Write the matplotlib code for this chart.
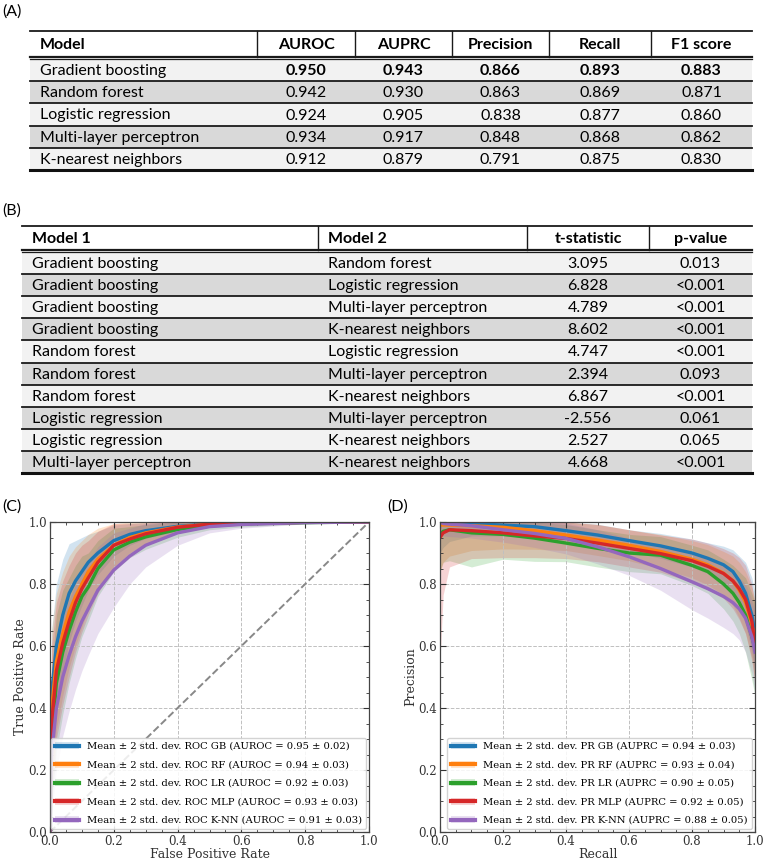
import matplotlib
matplotlib.use("Agg")
import matplotlib.pyplot as plt
from matplotlib.patches import Rectangle, Patch
from matplotlib.lines import Line2D
from matplotlib.ticker import MultipleLocator
import numpy as np

plt.rcParams["font.family"] = "DejaVu Serif"

# ---- table (A): model performance ----
models = ["Gradient boosting", "Random forest", "Logistic regression",
          "Multi-layer perceptron", "K-nearest neighbors"]
metric_names = ["AUROC", "AUPRC", "Precision", "Recall", "F1 score"]
auroc = ["0.950", "0.942", "0.924", "0.934", "0.912"]
auprc = ["0.943", "0.930", "0.905", "0.917", "0.879"]
precision = ["0.866", "0.863", "0.838", "0.848", "0.791"]
recall = ["0.893", "0.869", "0.877", "0.868", "0.875"]
f1 = ["0.883", "0.871", "0.860", "0.862", "0.830"]

# ---- table (B): pairwise t-tests ----
model_1 = ["Gradient boosting"] * 4 + ["Random forest"] * 3 + \
          ["Logistic regression"] * 2 + ["Multi-layer perceptron"]
model_2 = ["Random forest", "Logistic regression", "Multi-layer perceptron",
           "K-nearest neighbors", "Logistic regression", "Multi-layer perceptron",
           "K-nearest neighbors", "Multi-layer perceptron", "K-nearest neighbors",
           "K-nearest neighbors"]
t_stat = ["3.095", "6.828", "4.789", "8.602", "4.747", "2.394", "6.867",
          "-2.556", "2.527", "4.668"]
p_val = ["0.013", "<0.001", "<0.001", "<0.001", "<0.001", "0.093", "<0.001",
         "0.061", "0.065", "<0.001"]

# ---- ROC curves (mean and 2-std half width) ----
short = ["GB", "RF", "LR", "MLP", "K-NN"]
roc_auc_txt = ["0.95 ± 0.02", "0.94 ± 0.03", "0.92 ± 0.03", "0.93 ± 0.03", "0.91 ± 0.03"]
fpr = [0, 0.005, 0.02, 0.04, 0.06, 0.08, 0.1, 0.12, 0.15, 0.2, 0.25, 0.3, 0.4, 0.5, 0.6, 0.8, 1.0]
tpr_gb = [0, 0.45, 0.6, 0.7, 0.77, 0.81, 0.84, 0.87, 0.9, 0.94, 0.96, 0.972, 0.986, 0.994, 0.997, 0.999, 1.0]
tpr_rf = [0, 0.4, 0.55, 0.64, 0.71, 0.76, 0.80, 0.84, 0.88, 0.925, 0.95, 0.965, 0.984, 0.993, 0.996, 0.999, 1.0]
tpr_lr = [0, 0.3, 0.48, 0.58, 0.65, 0.71, 0.76, 0.79, 0.85, 0.91, 0.935, 0.952, 0.976, 0.99, 0.994, 0.998, 1.0]
tpr_mlp = [0, 0.35, 0.52, 0.61, 0.68, 0.74, 0.785, 0.82, 0.87, 0.925, 0.945, 0.962, 0.983, 0.993, 0.996, 0.999, 1.0]
tpr_knn = [0, 0.25, 0.4, 0.5, 0.57, 0.63, 0.68, 0.72, 0.78, 0.845, 0.89, 0.925, 0.965, 0.985, 0.992, 0.998, 1.0]
tpr_hw_gb = [0, 0.2, 0.2, 0.18, 0.16, 0.13, 0.11, 0.09, 0.07, 0.05, 0.035, 0.025, 0.015, 0.008, 0.005, 0.002, 0]
tpr_hw_rf = [0, 0.25, 0.22, 0.2, 0.18, 0.16, 0.14, 0.12, 0.1, 0.07, 0.05, 0.035, 0.018, 0.01, 0.006, 0.002, 0]
tpr_hw_lr = [0, 0.22, 0.22, 0.2, 0.17, 0.15, 0.13, 0.11, 0.09, 0.07, 0.05, 0.04, 0.025, 0.015, 0.01, 0.004, 0]
tpr_hw_mlp = [0, 0.25, 0.22, 0.2, 0.18, 0.16, 0.14, 0.12, 0.1, 0.07, 0.05, 0.035, 0.018, 0.01, 0.006, 0.002, 0]
tpr_hw_knn = [0, 0.2, 0.2, 0.19, 0.18, 0.17, 0.16, 0.15, 0.14, 0.12, 0.09, 0.07, 0.04, 0.02, 0.012, 0.004, 0]

# ---- PR curves ----
pr_auc_txt = ["0.94 ± 0.03", "0.93 ± 0.04", "0.90 ± 0.05", "0.92 ± 0.05", "0.88 ± 0.05"]
rec = [0.0, 0.01, 0.03, 0.1, 0.2, 0.3, 0.4, 0.5, 0.6, 0.7, 0.8, 0.85, 0.9, 0.93, 0.95, 0.97, 0.99, 1.0]
prec_gb = [1.0, 0.998, 0.997, 0.995, 0.99, 0.985, 0.972, 0.958, 0.94, 0.923, 0.9, 0.883, 0.862, 0.84, 0.81, 0.77, 0.70, 0.64]
prec_rf = [0.99, 0.99, 0.99, 0.988, 0.983, 0.972, 0.958, 0.942, 0.925, 0.905, 0.88, 0.862, 0.835, 0.81, 0.78, 0.74, 0.67, 0.62]
prec_lr = [0.96, 0.97, 0.975, 0.965, 0.96, 0.948, 0.932, 0.915, 0.9, 0.893, 0.86, 0.84, 0.80, 0.77, 0.74, 0.70, 0.63, 0.59]
prec_mlp = [0.95, 0.965, 0.975, 0.972, 0.965, 0.955, 0.947, 0.932, 0.915, 0.898, 0.875, 0.857, 0.834, 0.81, 0.785, 0.75, 0.68, 0.60]
prec_knn = [1.0, 0.995, 0.993, 0.988, 0.975, 0.963, 0.947, 0.92, 0.888, 0.85, 0.807, 0.785, 0.76, 0.74, 0.72, 0.69, 0.63, 0.58]
prec_hw_gb = [0.1, 0.08, 0.06, 0.04, 0.035, 0.035, 0.035, 0.035, 0.035, 0.04, 0.045, 0.05, 0.06, 0.07, 0.08, 0.1, 0.12, 0.13]
prec_hw_rf = [0.15, 0.12, 0.1, 0.08, 0.07, 0.06, 0.05, 0.05, 0.05, 0.055, 0.06, 0.065, 0.07, 0.08, 0.09, 0.1, 0.12, 0.13]
prec_hw_lr = [0.12, 0.1, 0.1, 0.11, 0.08, 0.075, 0.06, 0.06, 0.06, 0.06, 0.065, 0.07, 0.08, 0.09, 0.1, 0.12, 0.14, 0.15]
prec_hw_mlp = [0.4, 0.2, 0.12, 0.09, 0.08, 0.07, 0.065, 0.06, 0.06, 0.06, 0.07, 0.075, 0.08, 0.09, 0.1, 0.11, 0.12, 0.13]
prec_hw_knn = [0.04, 0.04, 0.04, 0.04, 0.04, 0.045, 0.05, 0.055, 0.06, 0.07, 0.09, 0.095, 0.1, 0.1, 0.1, 0.11, 0.12, 0.13]

colors = ["#1f77b4", "#ff7f0e", "#2ca02c", "#d62728", "#9467bd"]
SANS = "Lato"
W, H = 765, 860


def draw_table(ax, cols, top, head_bot, row_h, header, rows, aligns, bold_row=None):
    left, right = cols[0], cols[-1]
    n = len(rows)
    for i in range(n):
        y0 = head_bot + i * row_h
        fc = "#f2f2f2" if i % 2 == 0 else "#d9d9d9"
        ax.add_patch(Rectangle((left, y0), right - left, row_h, fc=fc, ec="none", zorder=1))
        if i > 0:
            ax.plot([left, right], [y0, y0], color="#1a1a1a", lw=1.3, zorder=3)
    bottom = head_bot + n * row_h
    ax.plot([left, right], [top, top], color="#1a1a1a", lw=1.3, zorder=3)
    ax.plot([left, right], [head_bot - 2.5, head_bot - 2.5], color="#1a1a1a", lw=1.6, zorder=3)
    ax.plot([left, right], [head_bot, head_bot], color="#1a1a1a", lw=0.9, zorder=3)
    ax.plot([left, right], [bottom, bottom], color="#111111", lw=2.2, zorder=3)
    for x in cols[1:-1]:
        ax.plot([x, x], [top, head_bot - 2.5], color="#1a1a1a", lw=1.0, zorder=3)

    def put(txt, j, yc, weight):
        if aligns[j] == "left":
            ax.text(cols[j] + 10, yc, txt, ha="left", va="center", fontsize=11.5,
                    family=SANS, weight=weight, zorder=4)
        else:
            ax.text((cols[j] + cols[j + 1]) / 2, yc, txt, ha="center", va="center",
                    fontsize=11.5, family=SANS, weight=weight, zorder=4)

    for j, h in enumerate(header):
        put(h, j, (top + head_bot - 2.5) / 2 + 1, "bold")
    for i, r in enumerate(rows):
        yc = head_bot + (i + 0.5) * row_h + 1
        for j, v in enumerate(r):
            w = "bold" if (bold_row == i and j > 0) else "normal"
            put(v, j, yc, w)


def style_axes(ax):
    ax.set_xlim(0, 1)
    ax.set_ylim(0, 1)
    ax.xaxis.set_major_locator(MultipleLocator(0.2))
    ax.yaxis.set_major_locator(MultipleLocator(0.2))
    ax.xaxis.set_minor_locator(MultipleLocator(0.05))
    ax.yaxis.set_minor_locator(MultipleLocator(0.05))
    ax.tick_params(which="both", direction="in", top=True, right=True,
                   labelsize=8.5, colors="#333333", labelcolor="#333333", pad=2)
    ax.tick_params(which="major", length=4)
    ax.tick_params(which="minor", length=2)
    ax.grid(True, which="major", ls="--", color="#c0c0c0", lw=0.7)
    for s in ax.spines.values():
        s.set_color("#444444")
        s.set_linewidth(0.9)


def curves(ax, x, means, hws, labels):
    handles = []
    for m, hw, c in zip(means, hws, colors):
        m = np.array(m)
        hw = np.array(hw)
        ax.fill_between(x, np.clip(m - hw, 0, 1), np.clip(m + hw, 0, 1),
                        color=c, alpha=0.2, lw=0)
        ax.plot(x, m, color=c, lw=2.4)
        handles.append((Patch(fc=c, alpha=0.2, ec="none"), Line2D([], [], color=c, lw=3)))
    ax.legend(handles, labels, loc="lower right", handlelength=2.4,
              labelspacing=0.95, borderaxespad=0.3, framealpha=0.85,
              edgecolor="#cccccc", prop={"family": "DejaVu Serif", "size": 7.2})


fig = plt.figure(figsize=(W / 100, H / 100), dpi=100)
tab = fig.add_axes([0, 0, 1, 1])
tab.set_xlim(0, W)
tab.set_ylim(H, 0)
tab.axis("off")

rows_a = [list(r) for r in zip(models, auroc, auprc, precision, recall, f1)]
draw_table(tab, [30, 257, 355, 452, 549, 651, 752], 31, 59, 22.2,
           ["Model"] + metric_names, rows_a,
           ["left", "c", "c", "c", "c", "c"], bold_row=0)

rows_b = [list(r) for r in zip(model_1, model_2, t_stat, p_val)]
draw_table(tab, [22, 318, 527, 649, 752], 226, 252, 22.1,
           ["Model 1", "Model 2", "t-statistic", "p-value"], rows_b,
           ["left", "left", "c", "c"])

for lab, x, y in [("(A)", 2, 12), ("(B)", 2, 211), ("(C)", 2, 507), ("(D)", 387, 507)]:
    tab.text(x, y, lab, fontsize=11.5, family=SANS, ha="left", va="center")

# ---- (C) ROC ----
axc = fig.add_axes([50 / W, 1 - 832 / H, 319 / W, 310 / H])
style_axes(axc)
axc.plot([0, 1], [0, 1], ls="--", color="#888888", lw=1.4)
curves(axc, fpr, [tpr_gb, tpr_rf, tpr_lr, tpr_mlp, tpr_knn],
       [tpr_hw_gb, tpr_hw_rf, tpr_hw_lr, tpr_hw_mlp, tpr_hw_knn],
       [f"Mean ± 2 std. dev. ROC {s} (AUROC = {a})" for s, a in zip(short, roc_auc_txt)])
axc.set_xlabel("False Positive Rate", fontsize=9, labelpad=0, color="#333333")
axc.set_ylabel("True Positive Rate", fontsize=9, labelpad=1, color="#333333")

# ---- (D) PR ----
axd = fig.add_axes([440 / W, 1 - 832 / H, 315 / W, 310 / H])
style_axes(axd)
curves(axd, rec, [prec_gb, prec_rf, prec_lr, prec_mlp, prec_knn],
       [prec_hw_gb, prec_hw_rf, prec_hw_lr, prec_hw_mlp, prec_hw_knn],
       [f"Mean ± 2 std. dev. PR {s} (AUPRC = {a})" for s, a in zip(short, pr_auc_txt)])
axd.set_xlabel("Recall", fontsize=9, labelpad=0, color="#333333")
axd.set_ylabel("Precision", fontsize=9, labelpad=1, color="#333333")

fig.savefig("out.png", dpi=100)
